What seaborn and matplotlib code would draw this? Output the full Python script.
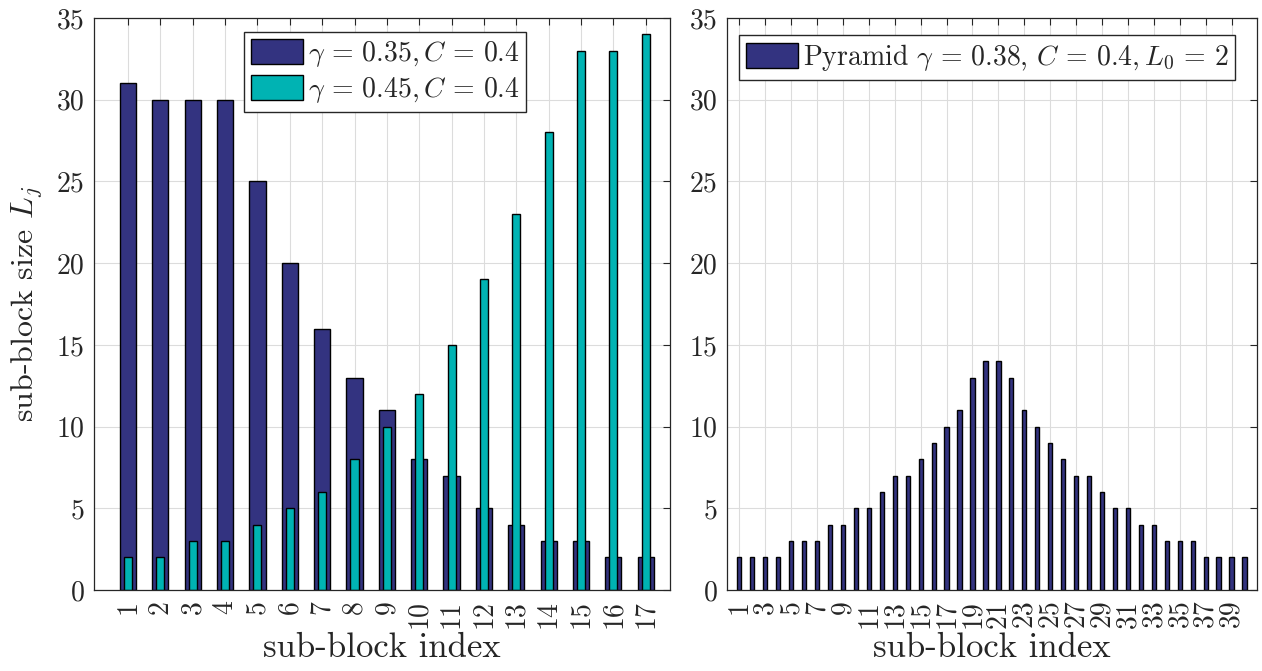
import matplotlib
matplotlib.use("Agg")
import matplotlib.pyplot as plt
import seaborn as sns

# sub-block sizes for the two growth schedules
idx_left = list(range(1, 18))
size_g035 = [31, 30, 30, 30, 25, 20, 16, 13, 11, 8, 7, 5, 4, 3, 3, 2, 2]
size_g045 = [2, 2, 3, 3, 4, 5, 6, 8, 10, 12, 15, 19, 23, 28, 33, 33, 34]

# pyramid schedule
idx_right = list(range(1, 41))
size_pyramid = [2, 2, 2, 2, 3, 3, 3, 4, 4, 5, 5, 6, 7, 7, 8, 9, 10, 11, 13, 14,
                14, 13, 11, 10, 9, 8, 7, 7, 6, 5, 5, 4, 4, 3, 3, 3, 2, 2, 2, 2]

yticks = [0, 5, 10, 15, 20, 25, 30, 35]
xticks_right = list(range(1, 41, 2))

NAVY = "#333380"
TEAL = "#00b3b3"
INK = "#262626"

sns.set_style("white")
plt.rcParams["font.family"] = ["cmr10", "DejaVu Serif"]
plt.rcParams["mathtext.fontset"] = "cm"
plt.rcParams["axes.formatter.use_mathtext"] = True
plt.rcParams["axes.unicode_minus"] = False

fig = plt.figure(figsize=(12.62, 6.71), dpi=100)
axL = fig.add_axes([0.0745, 0.1207, 0.4564, 0.8525])
axR = fig.add_axes([0.5761, 0.1207, 0.4200, 0.8525])

sns.barplot(x=idx_left, y=size_g035, native_scale=True, width=0.5, color=NAVY,
            saturation=1, edgecolor="black", linewidth=1.0, errorbar=None,
            label=r"$\gamma\,=\,0.35, C\,=\,0.4$", ax=axL)
sns.barplot(x=idx_left, y=size_g045, native_scale=True, width=0.25, color=TEAL,
            saturation=1, edgecolor="black", linewidth=1.0, errorbar=None,
            label=r"$\gamma\,=\,0.45, C\,=\,0.4$", ax=axL)

sns.barplot(x=idx_right, y=size_pyramid, native_scale=True, width=0.33, color=NAVY,
            saturation=1, edgecolor="black", linewidth=1.0, errorbar=None,
            label=r"Pyramid $\gamma\,=\,0.38$, $C\,=\,0.4, L_0\,=\,2$", ax=axR)

axL.set_xlim(-0.05, 17.75)
axL.set_xticks(idx_left)
axL.set_xticklabels([str(i) for i in idx_left], rotation=90)
axR.set_xlim(0.05, 40.97)
axR.set_xticks(xticks_right)
axR.set_xticklabels([str(i) for i in xticks_right], rotation=90)

for ax in (axL, axR):
    ax.set_ylim(0, 35)
    ax.set_yticks(yticks)
    ax.set_yticklabels([str(v) for v in yticks])
    ax.grid(True, color="#dcdcdc", linewidth=0.8)
    ax.set_axisbelow(True)
    ax.tick_params(direction="in", length=5, width=0.8, top=True, right=True,
                   labelsize=20, colors=INK, pad=7)
    for sp in ax.spines.values():
        sp.set_color(INK)
        sp.set_linewidth(0.9)
    ax.set_xlabel("sub-block index", fontsize=25, color=INK, labelpad=3)

axL.set_ylabel(r"sub-block size $L_j$", fontsize=23, color=INK, labelpad=8)
axR.set_ylabel("")

axL.legend(loc="upper left", bbox_to_anchor=(0.26, 0.975), fontsize=20,
           handlelength=1.9, handleheight=1.0, handletextpad=0.15,
           borderpad=0.25, labelspacing=0.2, borderaxespad=0.0, fancybox=False,
           edgecolor=INK, framealpha=1)
axR.legend(loc="upper left", bbox_to_anchor=(0.022, 0.970), fontsize=20,
           handlelength=1.9, handleheight=1.0, handletextpad=0.15,
           borderpad=0.25, labelspacing=0.2, borderaxespad=0.0, fancybox=False,
           edgecolor=INK, framealpha=1)

fig.savefig("out.png", dpi=100)
